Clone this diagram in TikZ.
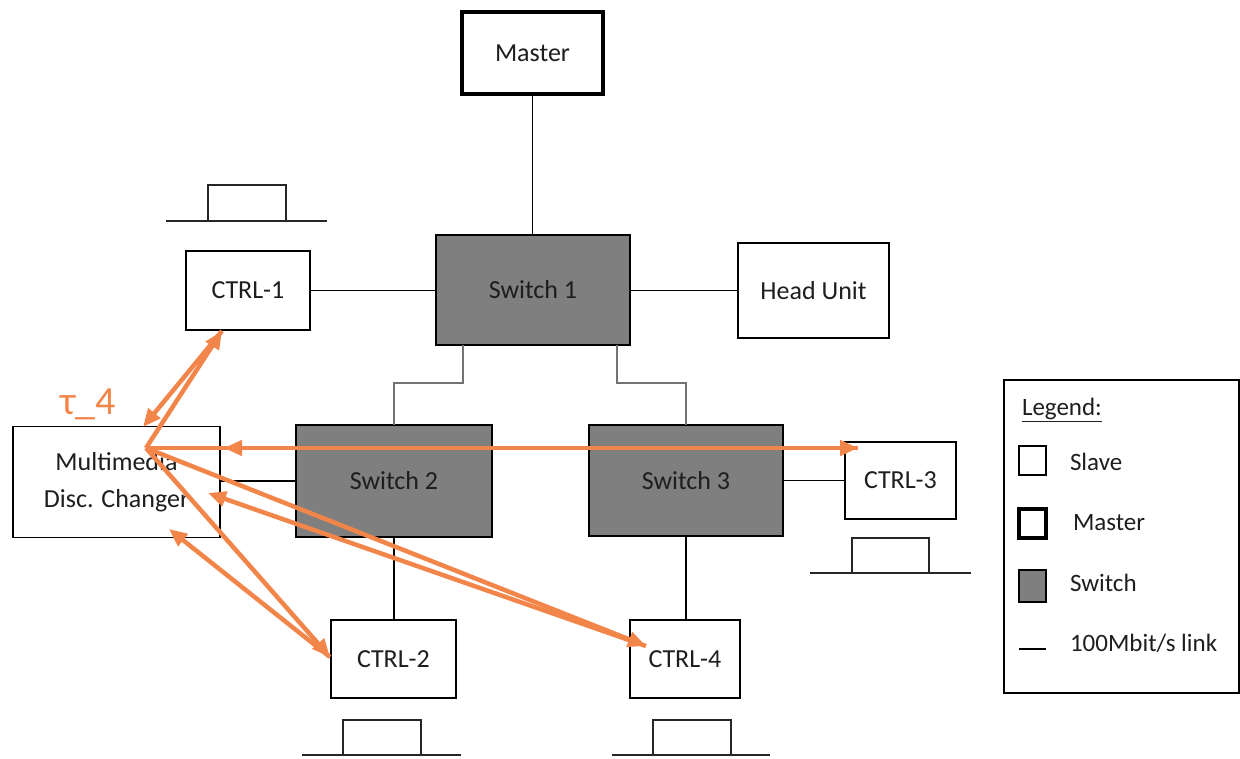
\documentclass[tikz,border=0pt]{standalone}
\usepackage{fontspec}
\setmainfont{Carlito}
\usetikzlibrary{arrows.meta}
\definecolor{swgray}{HTML}{7F7F7F}
\definecolor{arr}{RGB}{242,134,74}
\definecolor{txt}{HTML}{1E1E1E}
\begin{document}
\begin{tikzpicture}[x=1pt,y=-1pt,
  every node/.style={inner sep=0pt,outer sep=0pt,text=txt},
  box/.style={draw=black,line width=1.3pt,fill=white,font=\fontsize{26}{32}\selectfont,align=center},
  sbox/.style={box,fill=swgray},
  mbox/.style={box,line width=3.6pt},
  link/.style={line width=1.3pt,black},
  glink/.style={line width=1.3pt,black!55},
  pulse/.style={line width=1.3pt,black!85},
  arrw/.style={arr,line width=4.5pt,-{Triangle[length=18pt,width=15pt]}},
  lgtxt/.style={font=\fontsize{25}{30}\selectfont,anchor=west}
]
\useasboundingbox (0,0) rectangle (1240,759);

% nodes
\node[mbox,minimum width=141pt,minimum height=82pt] (master) at (532.5,53) {Master};
\node[sbox,minimum width=194pt,minimum height=110pt] (sw1) at (533,290) {Switch 1};
\node[box,minimum width=124pt,minimum height=79pt] (ctrl1) at (248,290.5) {CTRL-1};
\node[box,minimum width=151pt,minimum height=95pt] (head) at (813.5,290.5) {Head Unit};
\node[box,minimum width=207pt,minimum height=111pt] (mdc) at (116.5,482) {Multimedia\\[5pt]Disc. Changer};
\node[sbox,minimum width=196pt,minimum height=112pt] (sw2) at (394,481) {Switch 2};
\node[sbox,minimum width=194pt,minimum height=111pt] (sw3) at (686,480.5) {Switch 3};
\node[box,minimum width=111pt,minimum height=77pt] (ctrl3) at (900.5,480.5) {CTRL-3};
\node[box,minimum width=125pt,minimum height=78pt] (ctrl2) at (393.5,659) {CTRL-2};
\node[box,minimum width=110pt,minimum height=78pt] (ctrl4) at (685,659) {CTRL-4};

% links
\draw[link] (master.south) -- (master.south |- sw1.north);
\draw[link] (ctrl1.east) -- (ctrl1.east -| sw1.west);
\draw[link] (sw1.east |- head.west) -- (head.west);
\draw[glink] ([xshift=27pt]sw1.south west) -- ++(0,38) -| (sw2.north);
\draw[glink] ([xshift=-13pt]sw1.south east) -- ++(0,38) -| (sw3.north);
\draw[link] (mdc.east |- sw2.west) -- (sw2.west);
\draw[link] (sw2.south) -- (sw2.south |- ctrl2.north);
\draw[link] (sw3.south) -- (sw3.south |- ctrl4.north);
\draw[link] (sw3.east) -- (sw3.east -| ctrl3.west);

% pulses
\draw[pulse] (166,221) -- (327,221) (208,221) rectangle (286,185);
\draw[pulse] (810,573) -- (971,573) (852,573) rectangle (929,538);
\draw[pulse] (302,755) -- (461,755) (343,755) rectangle (421,720);
\draw[pulse] (612,755) -- (770,755) (653,755) rectangle (731,720);

% legend
\node[draw=black,line width=1.3pt,minimum width=235pt,minimum height=313pt] (legend) at (1121.5,536.5) {};
\node[lgtxt] (lgtitle) at (1022,410) {\underline{Legend:}};
\node[draw=black,line width=1.3pt,minimum width=27pt,minimum height=29pt] (lgslave) at (1032.5,460.5) {};
\node[draw=black,line width=3.6pt,minimum width=27pt,minimum height=29pt] (lgmaster) at (1032.5,523.5) {};
\node[draw=black,fill=swgray,line width=1.3pt,minimum width=27pt,minimum height=32pt] (lgswitch) at (1032.5,586) {};
\coordinate (lgl1) at (1019,649);
\coordinate (lgl2) at (1046,649);
\draw[link] (lgl1) -- (lgl2);
\node[lgtxt] (tslave) at (1070,462) {Slave};
\node[lgtxt] (tmaster) at (1073,523) {Master};
\node[lgtxt] (tswitch) at (1070,583) {Switch};
\node[lgtxt] (tlink) at (1070,643) {100Mbit/s link};

% orange arrows
\coordinate (P) at (146,448);
\coordinate (c1) at (222,331);
\coordinate (c1b) at (143,427);
\coordinate (c3) at (858,448);
\coordinate (c3b) at (224,448);
\coordinate (c2) at (330,657);
\coordinate (c2b) at (169,529);
\coordinate (c4) at (646,646);
\coordinate (c4b) at (208,493);
\draw[arrw] (P) -- (c1);
\draw[arrw] (c1) -- (c1b);
\draw[arrw] (P) -- (c3);
\draw[arrw] (c3) -- (c3b);
\draw[arrw] (P) -- (c2);
\draw[arrw] (c2) -- (c2b);
\draw[arrw] (P) -- (c4);
\draw[arrw] (c4) -- (c4b);

\node[text=arr,font=\fontsize{40}{48}\selectfont] (tau) at (88,404) {τ\_4};
\end{tikzpicture}
\end{document}
